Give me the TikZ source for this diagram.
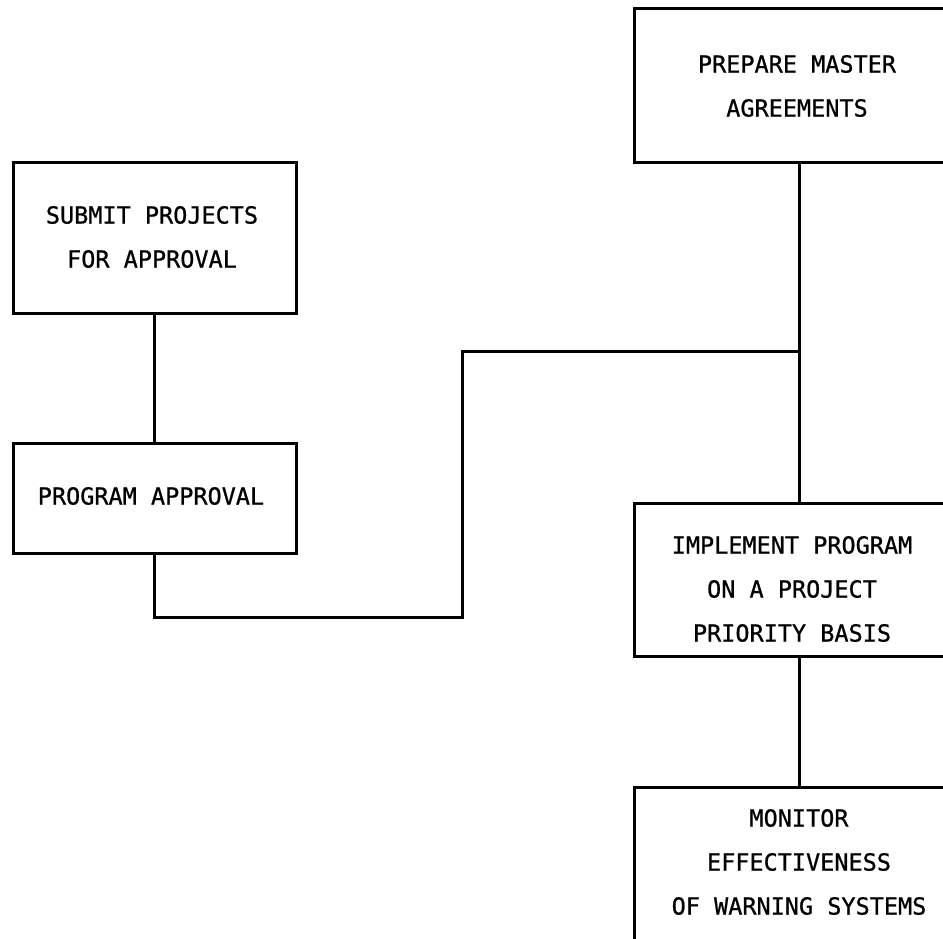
\documentclass[tikz,border=0pt]{standalone}
\usepackage{fontspec}
\setmonofont[FakeBold=0.8]{DejaVu Sans Mono}
\begin{document}
\begin{tikzpicture}[x=1pt,y=-1pt,
  box/.style={draw=black, line width=3pt, rectangle, inner sep=0pt},
  txt/.style={font=\ttfamily\fontsize{23.5}{44}\selectfont, align=center, inner sep=0pt},
  link/.style={draw=black, line width=3pt}]
\useasboundingbox (0,0) rectangle (943,938);
\clip (0,0) rectangle (943,938);
\fill[white] (0,0) rectangle (943,938);

% boxes
\node[box, minimum width=283pt, minimum height=151pt] (submit) at (154.5,237.5) {};
\node[box, minimum width=283pt, minimum height=110pt] (prog) at (154.5,498) {};
\node[box, minimum width=330pt, minimum height=154pt] (prep) at (799,85) {};
\node[box, minimum width=330pt, minimum height=153pt] (impl) at (799,579.5) {};
\node[box, minimum width=330pt, minimum height=200pt] (mon) at (799,887) {};

% labels
\node[txt] (submitT) at (152,237) {SUBMIT PROJECTS\\FOR APPROVAL};
\node[txt] (progT) at (151,496) {PROGRAM APPROVAL};
\node[txt] (prepT) at (797,86) {PREPARE MASTER\\AGREEMENTS};
\node[txt] (implT) at (792,589) {IMPLEMENT PROGRAM\\ON A PROJECT\\PRIORITY BASIS};
\node[txt] (monT) at (799,862) {MONITOR\\EFFECTIVENESS\\OF WARNING SYSTEMS};

% connectors
\coordinate (junction) at (prep.south |- 0,351);
\coordinate (bendA) at (prog.south |- 0,617);
\coordinate (bendB) at (462,617);
\coordinate (bendC) at (462,351);
\draw[link] (submit.south) -- (prog.north);
\draw[link] (prep.south) -- (impl.north);
\draw[link] (impl.south) -- (mon.north);
\draw[link] (prog.south) -- (bendA) -- (bendB) -- (bendC) -- (junction);
\end{tikzpicture}
\end{document}
